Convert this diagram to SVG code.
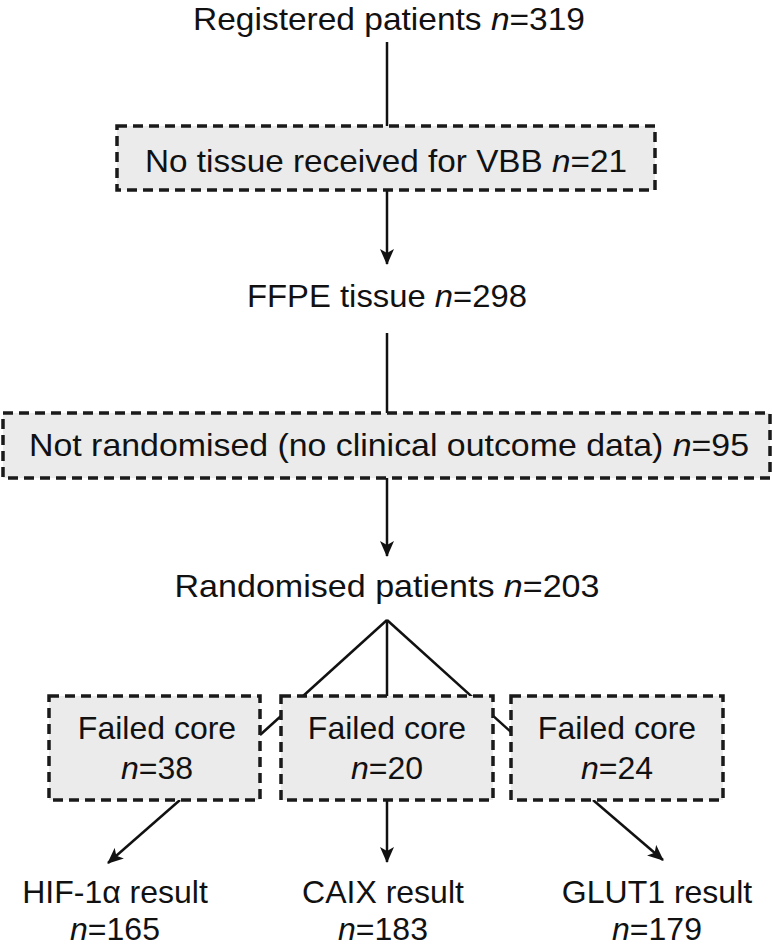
<svg xmlns="http://www.w3.org/2000/svg" width="773" height="951" viewBox="0 0 773 951">
<defs>
<style>
text{font-family:"Liberation Sans",Arial,sans-serif;font-size:32px;fill:#111;text-anchor:middle}
.i{font-style:italic}
.box{fill:#ebebeb;stroke:#1a1a1a;stroke-width:3.5;stroke-dasharray:10 6}
.ln{stroke:#111;stroke-width:2.5;fill:none}
</style>
<marker id="ah" viewBox="0 0 16 14" markerWidth="16" markerHeight="14" refX="15" refY="7" orient="auto" markerUnits="userSpaceOnUse">
<path d="M0,0 L16,7 L0,14 L4,7 z" fill="#111"/>
</marker>
</defs>
<rect width="773" height="951" fill="#fff"/>
<g id="connectors">
<line class="ln" x1="387" y1="42" x2="387" y2="126"/>
<line class="ln" x1="387" y1="190" x2="387" y2="264" marker-end="url(#ah)"/>
<line class="ln" x1="387" y1="333" x2="387" y2="413"/>
<line class="ln" x1="387" y1="478" x2="387" y2="556" marker-end="url(#ah)"/>
<line class="ln" x1="387" y1="620" x2="260" y2="735"/>
<line class="ln" x1="387" y1="620" x2="387" y2="696"/>
<line class="ln" x1="387" y1="620" x2="511" y2="732"/>
<line class="ln" x1="180" y1="800" x2="108" y2="863" marker-end="url(#ah)"/>
<line class="ln" x1="387" y1="800" x2="387" y2="862" marker-end="url(#ah)"/>
<line class="ln" x1="593" y1="800" x2="663" y2="860" marker-end="url(#ah)"/>
</g>
<g id="registered">
<text x="389" y="30" textLength="392" lengthAdjust="spacingAndGlyphs">Registered patients <tspan class="i">n</tspan>=319</text>
</g>
<g id="no-tissue">
<rect class="box" x="117" y="126" width="538" height="64"/>
<text x="386" y="172" textLength="482" lengthAdjust="spacingAndGlyphs">No tissue received for VBB <tspan class="i">n</tspan>=21</text>
</g>
<g id="ffpe">
<text x="387" y="307" textLength="280" lengthAdjust="spacingAndGlyphs">FFPE tissue <tspan class="i">n</tspan>=298</text>
</g>
<g id="not-randomised">
<rect class="box" x="3" y="413" width="767" height="65"/>
<text x="389" y="456" textLength="720" lengthAdjust="spacingAndGlyphs">Not randomised (no clinical outcome data) <tspan class="i">n</tspan>=95</text>
</g>
<g id="randomised">
<text x="387" y="597" textLength="425" lengthAdjust="spacingAndGlyphs">Randomised patients <tspan class="i">n</tspan>=203</text>
</g>
<g id="failed-hif">
<rect class="box" x="49" y="696" width="211" height="104"/>
<text x="157" y="739">Failed core</text>
<text x="157" y="779"><tspan class="i">n</tspan>=38</text>
</g>
<g id="failed-caix">
<rect class="box" x="281" y="696" width="212" height="104"/>
<text x="387" y="739">Failed core</text>
<text x="387" y="779"><tspan class="i">n</tspan>=20</text>
</g>
<g id="failed-glut1">
<rect class="box" x="511" y="696" width="212" height="104"/>
<text x="617" y="739">Failed core</text>
<text x="617" y="779"><tspan class="i">n</tspan>=24</text>
</g>
<g id="hif-result">
<text x="115" y="903">HIF-1α result</text>
<text x="115" y="940"><tspan class="i">n</tspan>=165</text>
</g>
<g id="caix-result">
<text x="383" y="903">CAIX result</text>
<text x="383" y="940"><tspan class="i">n</tspan>=183</text>
</g>
<g id="glut1-result">
<text x="657" y="903">GLUT1 result</text>
<text x="657" y="940"><tspan class="i">n</tspan>=179</text>
</g>
</svg>
